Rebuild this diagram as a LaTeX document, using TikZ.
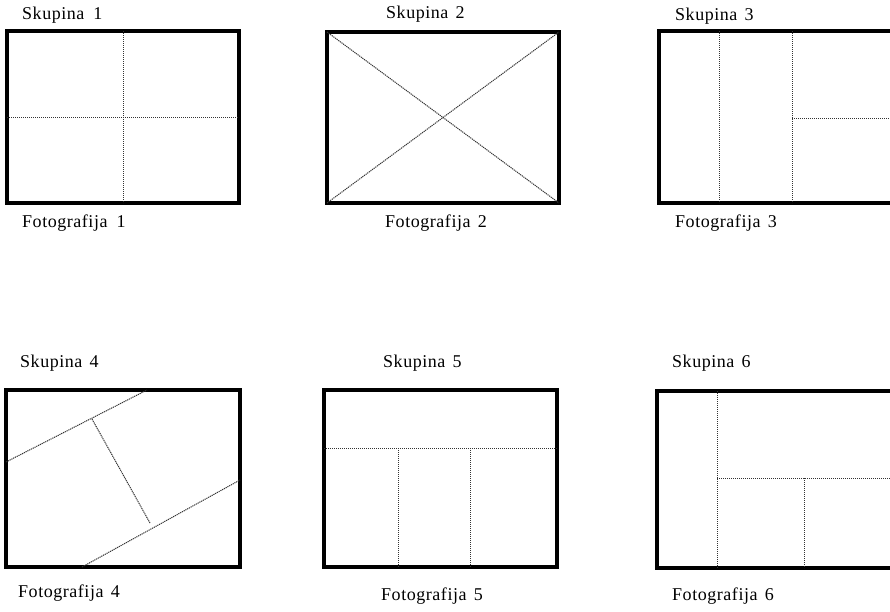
\documentclass[tikz,border=0pt]{standalone}
\usepackage{fontspec}
\setmainfont{Liberation Serif}[LetterSpace=3]
\begin{document}
\begin{tikzpicture}[x=1pt,y=-1pt,
  frame/.style={line width=4pt,line join=miter},
  part/.style={line width=1pt,black!80,dash pattern=on 1.2pt off 0.8pt},
  lbl/.style={anchor=base west,inner sep=0pt,font=\fontsize{18}{21}\selectfont}]
\useasboundingbox (0,0) rectangle (890,611);
\clip (0,0) rectangle (890,611);
% ---- Panel 1
\draw[frame] (7,31) rectangle (239,203);
\draw[part] (123,31) -- (123,203);
\draw[part] (7,117) -- (239,117);
\node[lbl] (s1) at (22,19) {Skupina\hspace{0.5em}1};
\node[lbl] (f1) at (22,227) {Fotografija\hspace{0.5em}1};
% ---- Panel 2
\draw[frame] (327,32) rectangle (559,203);
\draw[part] (327,32) -- (559,203);
\draw[part] (327,203) -- (559,32);
\node[lbl] (s2) at (386,18) {Skupina\hspace{0.4em}2};
\node[lbl] (f2) at (385,227) {Fotografija\hspace{0.4em}2};
% ---- Panel 3
\draw[frame] (895,31) -- (659,31) -- (659,203) -- (895,203);
\draw[part] (719,31) -- (719,203);
\draw[part] (792,31) -- (792,203);
\draw[part] (792,118) -- (890,118);
\node[lbl] (s3) at (675,20) {Skupina\hspace{0.4em}3};
\node[lbl] (f3) at (675,227) {Fotografija\hspace{0.4em}3};
% ---- Panel 4
\draw[frame] (6,390) rectangle (240,567);
\draw[part] (6,462) -- (147,390);
\draw[part] (82,567) -- (240,480);
\draw[part] (92,419) -- (150,523);
\node[lbl] (s4) at (20,367) {Skupina\hspace{0.4em}4};
\node[lbl] (f4) at (18,597) {Fotografija\hspace{0.4em}4};
% ---- Panel 5
\draw[frame] (324,390) rectangle (557,567);
\draw[part] (324,448) -- (557,448);
\draw[part] (398,448) -- (398,567);
\draw[part] (470,448) -- (470,567);
\node[lbl] (s5) at (383,367) {Skupina\hspace{0.4em}5};
\node[lbl] (f5) at (381,600) {Fotografija\hspace{0.4em}5};
% ---- Panel 6
\draw[frame] (895,391) -- (657,391) -- (657,568) -- (895,568);
\draw[part] (717,391) -- (717,568);
\draw[part] (717,478) -- (890,478);
\draw[part] (804,478) -- (804,568);
\node[lbl] (s6) at (672,367) {Skupina\hspace{0.4em}6};
\node[lbl] (f6) at (672,600) {Fotografija\hspace{0.4em}6};
\end{tikzpicture}
\end{document}
